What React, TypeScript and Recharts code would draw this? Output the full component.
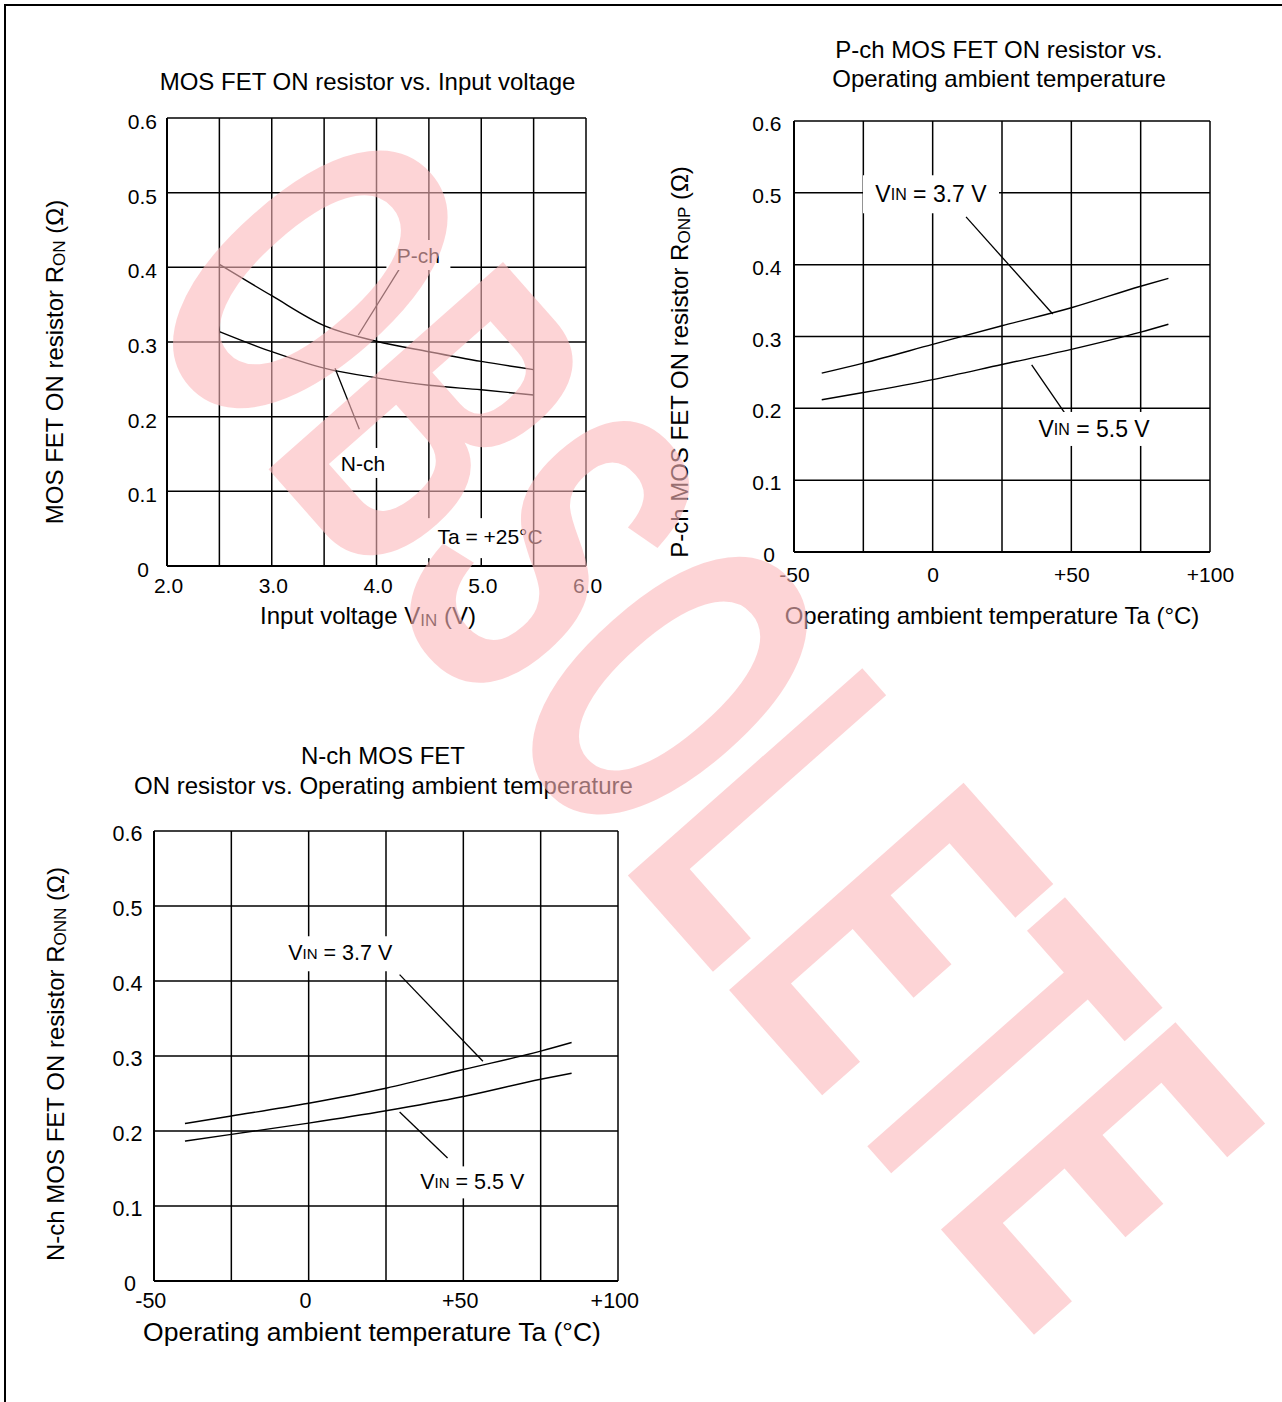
import React from "react";
import { CartesianGrid, Line, LineChart, ReferenceDot, ReferenceLine, XAxis, YAxis } from "recharts";

const FONT = '"Liberation Sans", Arial, Helvetica, sans-serif';

// MOS FET ON resistor vs. input voltage (Ta = +25 °C)
const vin = [2.5, 3.0, 3.5, 4.0, 4.5, 5.0, 5.5];
const ronPch = [0.404, 0.362, 0.322, 0.301, 0.287, 0.274, 0.263];
const ronNch = [0.314, 0.287, 0.265, 0.252, 0.242, 0.236, 0.229];
const vinTicks = [2.0, 2.5, 3.0, 3.5, 4.0, 4.5, 5.0, 5.5, 6.0];

// ON resistor vs. operating ambient temperature
const temp = [-40, -25, 0, 25, 50, 75, 85];
const ronpVin37 = [0.249, 0.263, 0.289, 0.315, 0.34, 0.37, 0.381];
const ronpVin55 = [0.212, 0.222, 0.24, 0.261, 0.282, 0.306, 0.317];
const ronnVin37 = [0.21, 0.22, 0.237, 0.257, 0.282, 0.3065, 0.318];
const ronnVin55 = [0.1865, 0.1955, 0.2105, 0.227, 0.246, 0.269, 0.277];
const tempTicks = [-50, -25, 0, 25, 50, 75, 100];

const ronTicks = [0, 0.1, 0.2, 0.3, 0.4, 0.5, 0.6];

type Pt = { x: number; y: number };
type Note = {
  at: Pt;
  box: [number, number, number, number];
  size: number;
  parts: { t: string; small?: number }[];
};

const yTick = (dx: number, zeroDx: number, dy: number, size: number) => (p: any) => {
  const v = p.payload.value as number;
  return (
    <text x={p.x + (v === 0 ? zeroDx : dx)} y={p.y + dy} textAnchor="end" dominantBaseline="central"
      fontSize={size} fontFamily={FONT} fill="#000">
      {v === 0 ? "0" : v.toFixed(1)}
    </text>
  );
};

const xTick = (fmt: (v: number) => string, dx: number, dy: number, size: number) => (p: any) => {
  const label = fmt(p.payload.value as number);
  if (!label) return <g />;
  return (
    <text x={p.x + dx} y={p.y + dy} textAnchor="middle" dominantBaseline="central"
      fontSize={size} fontFamily={FONT} fill="#000">
      {label}
    </text>
  );
};

const noteShape = (n: Note) => (p: any) => {
  const [bx, by, bw, bh] = n.box;
  return (
    <g>
      <rect x={p.cx + bx} y={p.cy + by} width={bw} height={bh} fill="#fff" />
      <text x={p.cx} y={p.cy} textAnchor="middle" dominantBaseline="central" fontSize={n.size}
        fontFamily={FONT} fill="#000">
        {n.parts.map((s, i) => (
          <tspan key={i} fontSize={s.small ?? n.size}>{s.t}</tspan>
        ))}
      </text>
    </g>
  );
};

function Panel(props: {
  left: number; top: number; width: number; height: number;
  margin: { top: number; right: number; bottom: number; left: number };
  xs: number[]; a: number[]; b: number[];
  xDomain: [number, number]; xTicks: number[];
  xTickEl: any; yTickEl: any;
  notes: Note[]; leaders: [Pt, Pt][];
}) {
  const rows = props.xs.map((x, i) => ({ x, a: props.a[i], b: props.b[i] }));
  return (
    <div style={{ position: "absolute", left: props.left, top: props.top, zIndex: 1 }}>
      <LineChart width={props.width} height={props.height} data={rows} margin={props.margin}>
        <CartesianGrid stroke="#000" strokeWidth={1.5} />
        <XAxis dataKey="x" type="number" domain={props.xDomain} ticks={props.xTicks} interval={0}
          height={40} tickSize={0} tickMargin={0} tickLine={false}
          axisLine={{ stroke: "#000", strokeWidth: 2 }} tick={props.xTickEl} />
        <YAxis type="number" domain={[0, 0.6]} ticks={ronTicks} interval={0} width={60}
          tickSize={0} tickMargin={0} tickLine={false}
          axisLine={{ stroke: "#000", strokeWidth: 2 }} tick={props.yTickEl} />
        <Line dataKey="a" type="monotone" stroke="#000" strokeWidth={1.4} dot={false} isAnimationActive={false} />
        <Line dataKey="b" type="monotone" stroke="#000" strokeWidth={1.4} dot={false} isAnimationActive={false} />
        {props.notes.map((n, i) => (
          <ReferenceDot key={"n" + i} x={n.at.x} y={n.at.y} r={0} shape={noteShape(n)} />
        ))}
        {props.leaders.map((s, i) => (
          <ReferenceLine key={"l" + i} segment={s} stroke="#000" strokeWidth={1.3} />
        ))}
      </LineChart>
    </div>
  );
}

const vinLabel = (v: number) => (Number.isInteger(v) ? v.toFixed(1) : "");
const tempLabel = (v: number) => (v % 50 !== 0 ? "" : v > 0 ? `+${v}` : `${v}`);

const notes1: Note[] = [
  { at: { x: 4.4, y: 0.4165 }, box: [-32, -15, 64, 30], size: 21, parts: [{ t: "P-ch" }] },
  { at: { x: 3.871, y: 0.138 }, box: [-26, -15, 52, 30], size: 21, parts: [{ t: "N-ch" }] },
  { at: { x: 5.084, y: 0.04 }, box: [-64, -18, 102, 40], size: 21, parts: [{ t: "Ta = +25°C" }] },
];
const leaders1: [Pt, Pt][] = [
  [{ x: 4.218, y: 0.3977 }, { x: 3.826, y: 0.3094 }],
  [{ x: 3.604, y: 0.2648 }, { x: 3.836, y: 0.1831 }],
];

const notes2: Note[] = [
  { at: { x: -0.6, y: 0.498 }, box: [-68, -19, 136, 38], size: 23,
    parts: [{ t: "V" }, { t: "IN", small: 16 }, { t: " = 3.7 V" }] },
  { at: { x: 58.2, y: 0.1713 }, box: [-59, -17, 118, 34], size: 23,
    parts: [{ t: "V" }, { t: "IN", small: 16 }, { t: " = 5.5 V" }] },
];
const leaders2: [Pt, Pt][] = [
  [{ x: 12.03, y: 0.4666 }, { x: 43.29, y: 0.3313 }],
  [{ x: 35.7, y: 0.2604 }, { x: 48.34, y: 0.1894 }],
];

const notes3: Note[] = [
  { at: { x: 10.2, y: 0.437 }, box: [-54, -17, 108, 35], size: 21.5,
    parts: [{ t: "V" }, { t: "IN", small: 15 }, { t: " = 3.7 V" }] },
  { at: { x: 52.9, y: 0.1315 }, box: [-56, -16, 113, 32], size: 21.5,
    parts: [{ t: "V" }, { t: "IN", small: 15 }, { t: " = 5.5 V" }] },
];
const leaders3: [Pt, Pt][] = [
  [{ x: 29.4, y: 0.4085 }, { x: 56.33, y: 0.2929 }],
  [{ x: 29.4, y: 0.2253 }, { x: 44.9, y: 0.1639 }],
];

const T = (p: { x: number; y: number; size?: number; rot?: boolean; children: React.ReactNode }) => (
  <text x={p.x} y={p.y} textAnchor="middle" dominantBaseline="central" fontSize={p.size ?? 24}
    fontFamily={FONT} fill="#000" transform={p.rot ? `rotate(-90 ${p.x} ${p.y})` : undefined}>
    {p.children}
  </text>
);

export default function App() {
  return (
    <div style={{ position: "absolute", left: 0, top: 0, width: 1282, height: 1402, background: "#fff", overflow: "hidden" }}>
      <div style={{ position: "absolute", left: 4, top: 4, width: 1400, height: 1500, borderLeft: "2px solid #000", borderTop: "2px solid #000" }} />
      <svg width={1282} height={1402} style={{ position: "absolute", left: 0, top: 0 }}>
        <T x={367.5} y={81}>MOS FET ON resistor vs. Input voltage</T>
        <T x={368} y={615}>
          Input voltage V<tspan dy={5} fontSize={17}>IN</tspan><tspan dy={-5}> (V)</tspan>
        </T>
        <T x={54} y={362} rot>
          MOS FET ON resistor R<tspan dy={5} fontSize={17}>ON</tspan><tspan dy={-5}> (Ω)</tspan>
        </T>

        <T x={999} y={49}>P-ch MOS FET ON resistor vs.</T>
        <T x={999} y={78}>Operating ambient temperature</T>
        <T x={992} y={615}>Operating ambient temperature Ta (°C)</T>
        <T x={679} y={362} rot>
          P-ch MOS FET ON resistor R<tspan dy={5} fontSize={17}>ONP</tspan><tspan dy={-5}> (Ω)</tspan>
        </T>

        <T x={383} y={755}>N-ch MOS FET</T>
        <T x={383.5} y={785}>ON resistor vs. Operating ambient temperature</T>
        <T x={372} y={1332} size={26.5}>Operating ambient temperature Ta (°C)</T>
        <T x={55} y={1064} rot>
          N-ch MOS FET ON resistor R<tspan dy={5} fontSize={17}>ONN</tspan><tspan dy={-5}> (Ω)</tspan>
        </T>
      </svg>

      <Panel left={0} top={0} width={640} height={660}
        margin={{ top: 118, right: 54, bottom: 54, left: 107 }}
        xs={vin} a={ronPch} b={ronNch} xDomain={[2, 6]} xTicks={vinTicks}
        xTickEl={xTick(vinLabel, 1.5, 19.5, 21)} yTickEl={yTick(-10, -18, 3.5, 21)}
        notes={notes1} leaders={leaders1} />

      <Panel left={640} top={0} width={642} height={660}
        margin={{ top: 121, right: 72, bottom: 68, left: 94 }}
        xs={temp} a={ronpVin37} b={ronpVin55} xDomain={[-50, 100]} xTicks={tempTicks}
        xTickEl={xTick(tempLabel, 0.5, 22, 21)} yTickEl={yTick(-12.5, -19, 2.5, 21)}
        notes={notes2} leaders={leaders2} />

      <Panel left={0} top={700} width={660} height={702}
        margin={{ top: 131, right: 42, bottom: 81, left: 94 }}
        xs={temp} a={ronnVin37} b={ronnVin55} xDomain={[-50, 100]} xTicks={tempTicks}
        xTickEl={xTick(tempLabel, -3.2, 20, 21.5)} yTickEl={yTick(-11.5, -18, 3, 21.5)}
        notes={notes3} leaders={leaders3} />

      <svg width={1282} height={1402} style={{ position: "absolute", left: 0, top: 0, zIndex: 2, pointerEvents: "none" }}>
        <text transform="matrix(0.3644 0.412 -0.749 0.6626 128.5 311)" fontSize={455} fontWeight={700}
          fontFamily={FONT} fill="rgb(252,184,187)" fillOpacity={0.6}>
          OBSOLETE
        </text>
      </svg>
    </div>
  );
}
